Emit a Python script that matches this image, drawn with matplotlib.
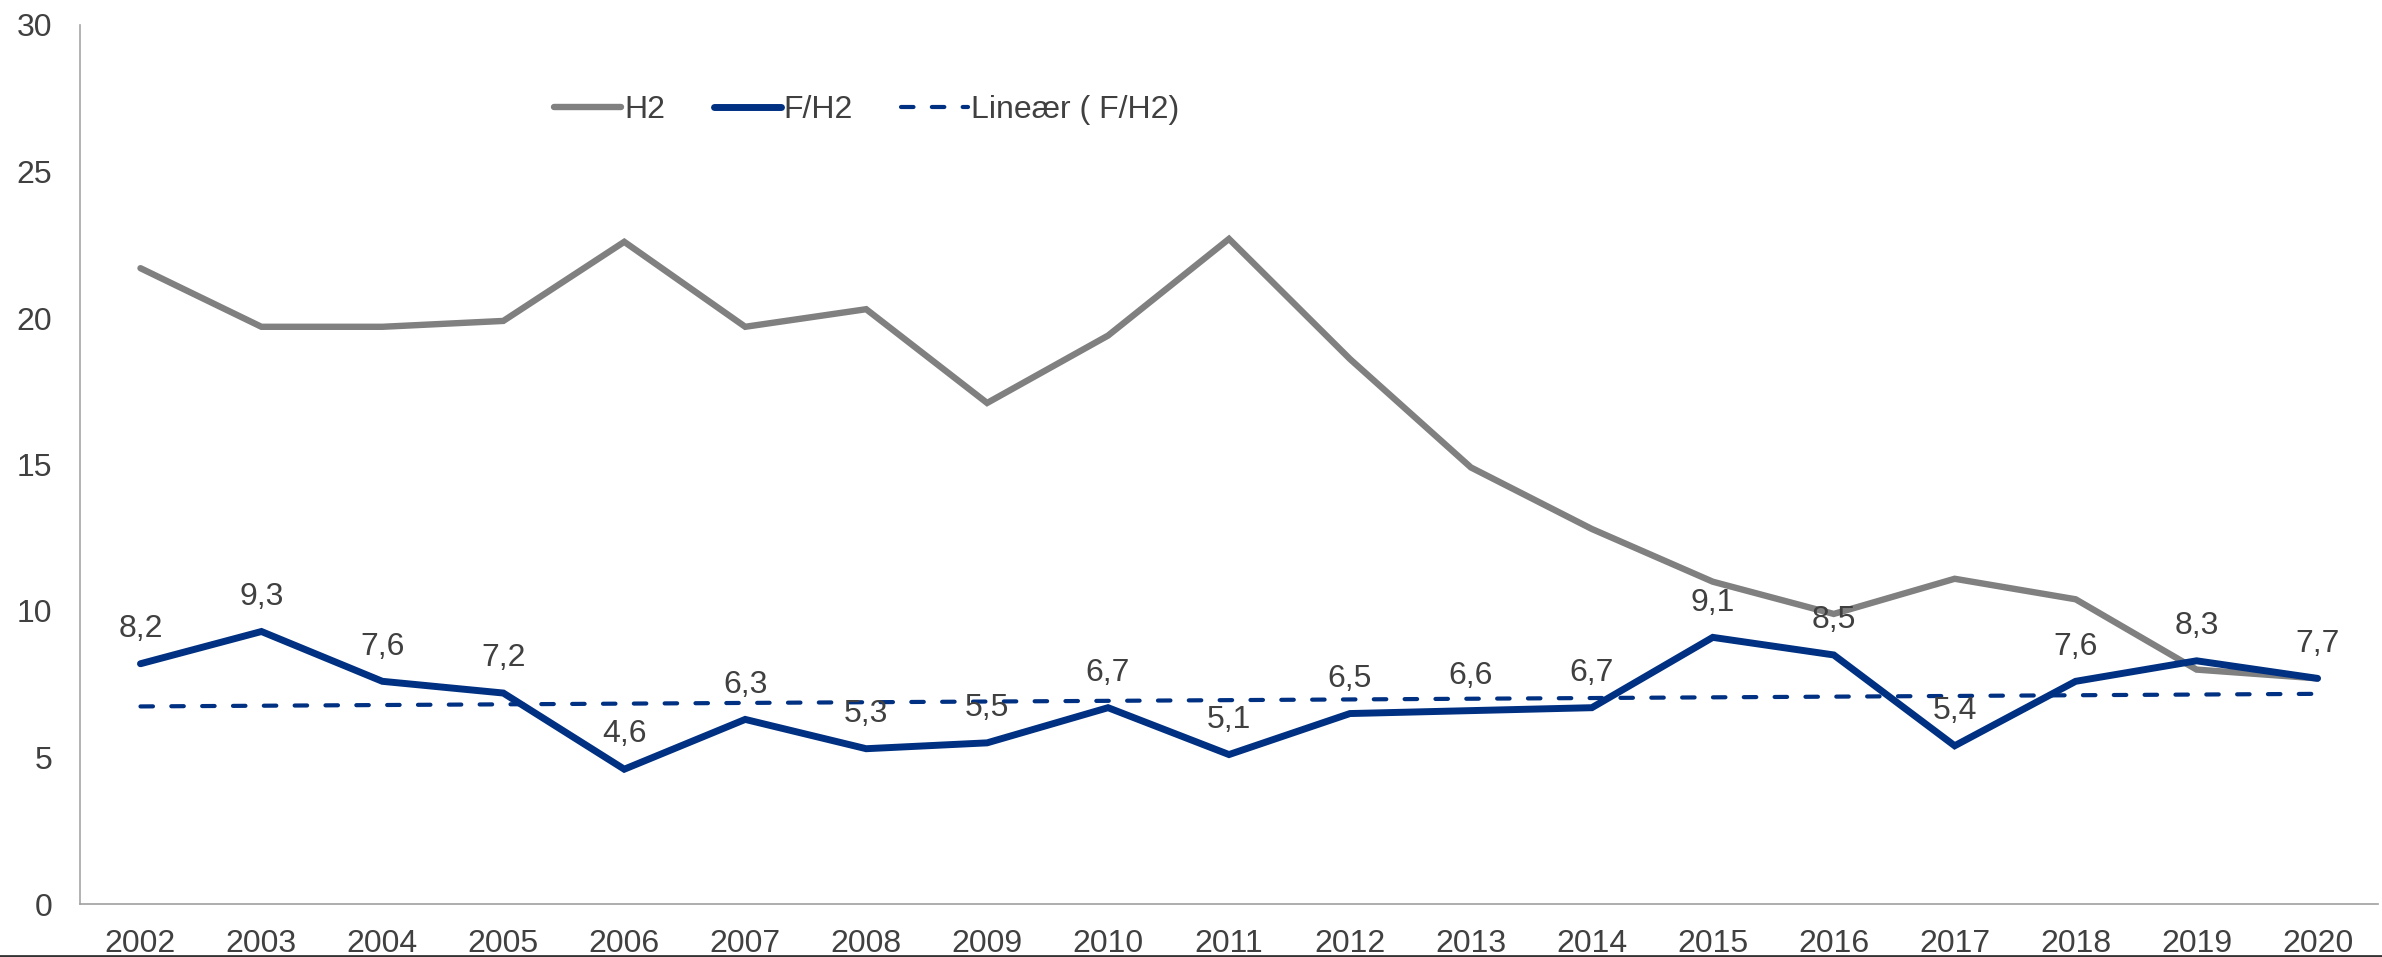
import numpy as np
import matplotlib
matplotlib.use("Agg")
import matplotlib.pyplot as plt
from matplotlib.lines import Line2D

years = [str(y) for y in range(2002, 2021)]
h2 = [21.7, 19.7, 19.7, 19.9, 22.6, 19.7, 20.3, 17.1, 19.4, 22.7,
      18.6, 14.9, 12.8, 11.0, 9.9, 11.1, 10.4, 8.0, 7.7]
f_h2 = [8.2, 9.3, 7.6, 7.2, 4.6, 6.3, 5.3, 5.5, 6.7, 5.1,
        6.5, 6.6, 6.7, 9.1, 8.5, 5.4, 7.6, 8.3, 7.7]

GRAY = "#808080"
BLUE = "#003082"
TEXT = "#404040"
FS = 23

plt.rcParams["font.family"] = ["Liberation Sans", "DejaVu Sans"]

fig = plt.figure(figsize=(23.82, 9.57), dpi=100)
ax = fig.add_axes([80 / 2382, 53 / 957, 2298 / 2382, 879 / 957])

x = np.arange(len(years))
ax.plot(x, h2, color=GRAY, lw=4.6, solid_joinstyle="miter",
        solid_capstyle="round", label="H2")
ax.plot(x, f_h2, color=BLUE, lw=5.0, solid_joinstyle="miter",
        solid_capstyle="round", label="F/H2")

# Excel style linear trendline
k, m = np.polyfit(x, f_h2, 1)
ax.plot(x, k * x + m, color=BLUE, lw=3.0, ls=(0, (3.0, 4.4)),
        dash_capstyle="round", label="Lineær ( F/H2)")

for xi, v in zip(x, f_h2):
    ax.annotate(f"{v:.1f}".replace(".", ","), (xi, v), xytext=(0, 25),
                textcoords="offset points", ha="center", va="center",
                fontsize=FS, color=TEXT)

ax.set_xlim(-0.5, len(years) - 0.5)
ax.set_ylim(0, 30)
ax.set_xticks(x)
ax.set_xticklabels(years)
ax.set_yticks(range(0, 31, 5))
ax.tick_params(axis="both", length=0, labelsize=FS, colors=TEXT)
ax.tick_params(axis="y", pad=20)
ax.tick_params(axis="x", pad=18)

for s in ["top", "right"]:
    ax.spines[s].set_visible(False)
ax.spines["left"].set_color("#A6A6A6")
ax.spines["bottom"].set_color("#A0A0A0")
ax.spines["left"].set_linewidth(1.2)
ax.spines["bottom"].set_linewidth(1.2)

leg = ax.legend(loc="center", bbox_to_anchor=(0.364, 0.885),
                bbox_transform=fig.transFigure, ncol=3, frameon=False,
                fontsize=FS, handlelength=2.1, handletextpad=0.1,
                columnspacing=1.5)
for t in leg.get_texts():
    t.set_color(TEXT)

# dark border along the bottom edge
fig.add_artist(Line2D([0, 1], [1.5 / 957, 1.5 / 957], color="#333333",
                      lw=2, transform=fig.transFigure))

fig.savefig("out.png", dpi=100)
